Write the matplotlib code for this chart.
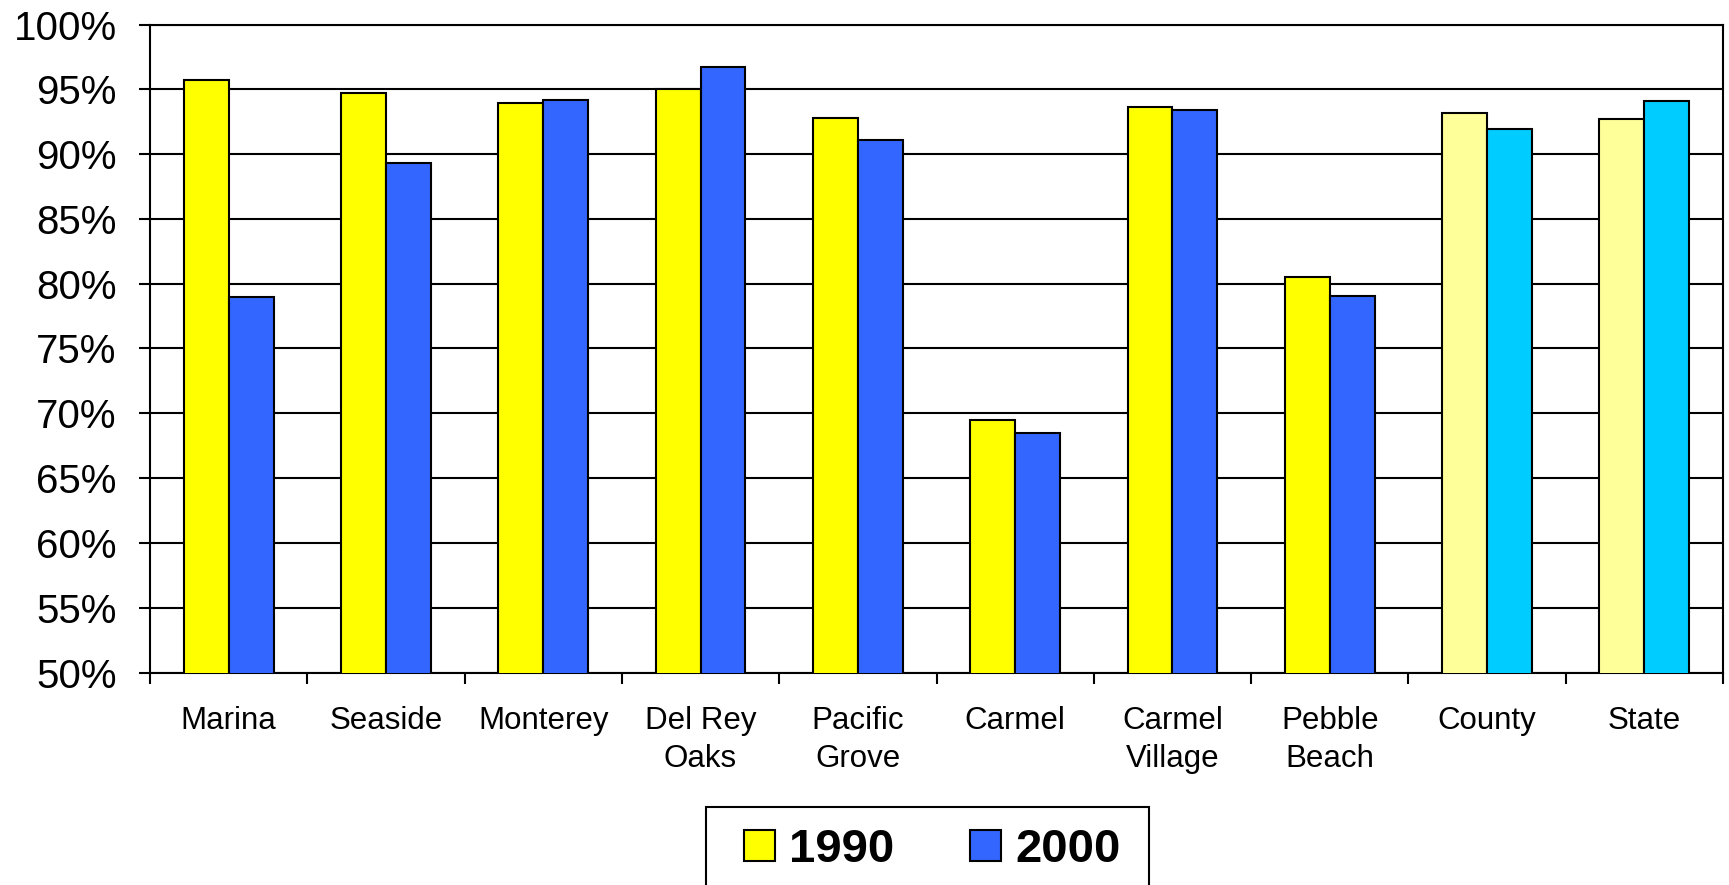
import matplotlib
matplotlib.use("Agg")
import matplotlib.pyplot as plt
from matplotlib.ticker import FuncFormatter, MultipleLocator
from matplotlib.patches import Patch, Rectangle
import numpy as np

plt.rcParams['font.family'] = ['Liberation Sans', 'DejaVu Sans']

places = ["Marina", "Seaside", "Monterey", "Del Rey\nOaks", "Pacific\nGrove",
          "Carmel", "Carmel\nVillage", "Pebble\nBeach", "County", "State"]
pct_1990 = [95.7, 94.75, 93.95, 95.0, 92.75, 69.45, 93.65, 80.55, 93.2, 92.7]
pct_2000 = [79.0, 89.35, 94.15, 96.75, 91.05, 68.5, 93.4, 79.05, 91.95, 94.1]

# county/state bars get lighter colours
col_1990 = ["#FFFF00"] * 8 + ["#FFFF99"] * 2
col_2000 = ["#3366FF"] * 8 + ["#00CCFF"] * 2

fig = plt.figure(figsize=(17.29, 8.85), dpi=100)
ax = fig.add_axes([150 / 1729, 1 - 672.5 / 885, (1723 - 150) / 1729, (672.5 - 24.5) / 885])

x = np.arange(len(places))
w = 1 / 3.5
ax.bar(x - w / 2, pct_1990, w, color=col_1990, edgecolor="black", linewidth=1.5, zorder=3)
ax.bar(x + w / 2, pct_2000, w, color=col_2000, edgecolor="black", linewidth=1.5, zorder=3)

ax.set_ylim(50, 100)
ax.set_xlim(-0.5, len(places) - 0.5)
ax.yaxis.set_major_locator(MultipleLocator(5))
ax.yaxis.set_major_formatter(FuncFormatter(lambda v, p: "%d%%" % v))
ax.grid(axis="y", color="black", linewidth=1.5, zorder=1)

ax.set_xticks(x)
ax.set_xticklabels(places, fontsize=22.5, linespacing=1.35)
ax.set_xticks(np.arange(-0.5, len(places)), minor=True)
ax.tick_params(axis="x", which="major", length=0, pad=24)
ax.tick_params(axis="x", which="minor", length=8, width=1.5, direction="out")
ax.tick_params(axis="y", labelsize=29, length=8, width=1.5, direction="out", pad=16)

for s in ax.spines.values():
    s.set_linewidth(1.5)
    s.set_color("black")

handles = [Patch(facecolor="#FFFF00", edgecolor="black", linewidth=1.5, label="1990"),
           Patch(facecolor="#3366FF", edgecolor="black", linewidth=1.5, label="2000")]
leg = fig.legend(handles=handles, loc="center", bbox_to_anchor=(0.539, 1 - 850 / 885),
                 ncol=2, frameon=False, borderaxespad=0, borderpad=0,
                 prop={"weight": "bold", "size": 34}, handlelength=0.66, handleheight=0.66,
                 handletextpad=0.3, columnspacing=1.6)

# legend box runs off the bottom edge, like the original
fig.patches.append(Rectangle((706 / 1729, -0.05), 443 / 1729, (885 - 807) / 885 + 0.05,
                             transform=fig.transFigure, facecolor="none",
                             edgecolor="black", linewidth=1.5))

fig.savefig("out.png", dpi=100)
